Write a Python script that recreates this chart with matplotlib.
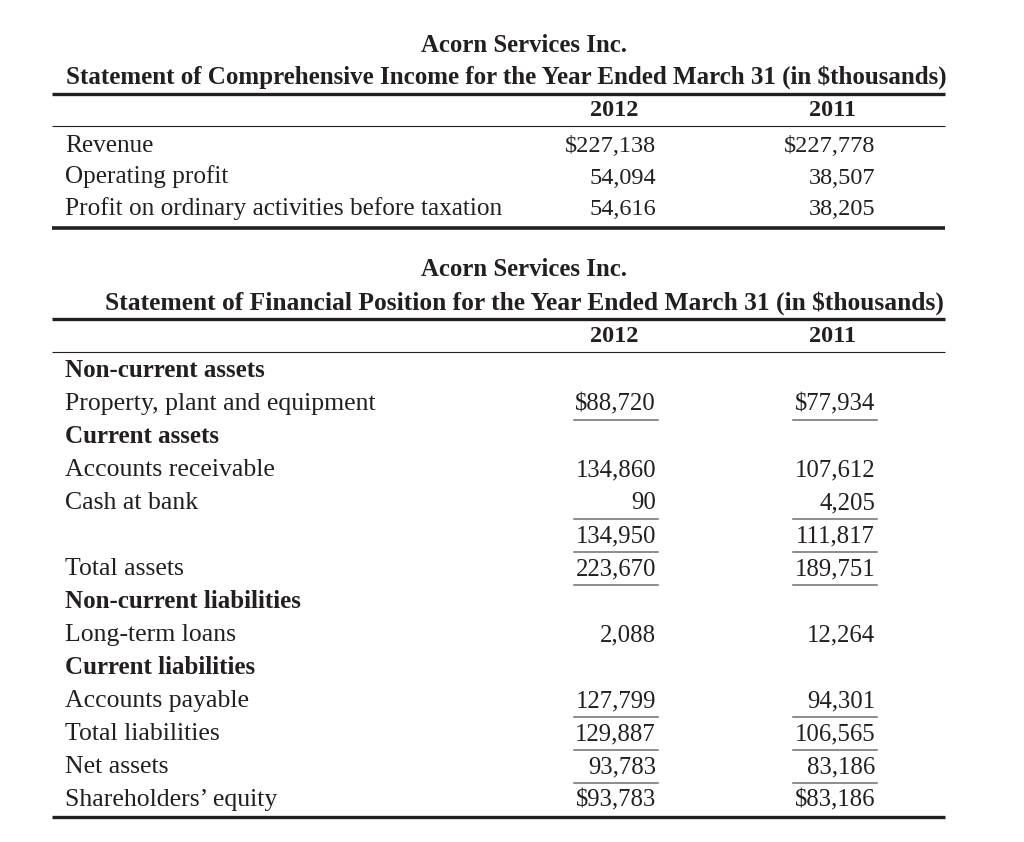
import matplotlib.pyplot as plt

# income statement
is_labels = ["Revenue", "Operating profit", "Profit on ordinary activities before taxation"]
is_2012 = ["$227,138", "54,094", "54,616"]
is_2011 = ["$227,778", "38,507", "38,205"]

# financial position
fp_labels = ["Non-current assets", "Property, plant and equipment", "Current assets",
             "Accounts receivable", "Cash at bank", "", "Total assets",
             "Non-current liabilities", "Long-term loans", "Current liabilities",
             "Accounts payable", "Total liabilities", "Net assets", "Shareholders\u2019 equity"]
fp_bold = [True, False, True, False, False, False, False, True, False, True,
           False, False, False, False]
fp_2012 = ["", "$88,720", "", "134,860", "90", "134,950", "223,670", "", "2,088", "",
           "127,799", "129,887", "93,783", "$93,783"]
fp_2011 = ["", "$77,934", "", "107,612", "4,205", "111,817", "189,751", "", "12,264", "",
           "94,301", "106,565", "83,186", "$83,186"]
fp_under = [False, True, False, False, True, True, True, False, False, False,
            True, True, True, False]

years = ["2012", "2011"]
company = "Acorn Services Inc."
title1 = "Statement of Comprehensive Income for the Year Ended March 31 (in $thousands)"
title2 = "Statement of Financial Position for the Year Ended March 31 (in $thousands)"

plt.rcParams['font.family'] = ['Liberation Serif', 'DejaVu Serif']
ink = '#231f20'

fig = plt.figure(figsize=(10.24, 8.42), dpi=100)
ax = fig.add_axes([0, 0, 1, 1])
ax.set_xlim(0, 1024)
ax.set_ylim(842, 0)
ax.axis('off')

x0, x1 = 52, 945
xl = 65
cols = [656, 875]


def hline(y, lw):
    ax.plot([x0, x1], [y, y], color=ink, lw=lw, solid_capstyle='butt')


def header(y_co, y_title, y_top, y_yr, y_thin, title, tx, tfs):
    ax.text(524, y_co, company, ha='center', va='center', fontsize=17.8,
            fontweight='bold', color=ink)
    ax.text(tx, y_title, title, ha='center', va='center', fontsize=tfs,
            fontweight='bold', color=ink)
    hline(y_top, 2.4)
    for c, yr in zip(cols, years):
        ax.text(c - 42, y_yr, yr, ha='center', va='center', fontsize=17.5,
                fontweight='bold', color=ink)
    hline(y_thin, 0.8)


# table 1
header(46, 77, 94, 111, 126, title1, 506, 18.0)
for i, lab in enumerate(is_labels):
    y = 145 + i * 31.5 + 7
    ax.text(xl, y, lab, ha='left', va='baseline', fontsize=18.2, color=ink)
    ax.text(cols[0], y, is_2012[i], ha='right', va='baseline', fontsize=17.5, color=ink)
    ax.text(cols[1], y, is_2011[i], ha='right', va='baseline', fontsize=17.5, color=ink)
hline(228, 2.6)

# table 2
header(270, 303, 319, 336, 352, title2, 524, 18.4)
for i, lab in enumerate(fp_labels):
    yc = 370 + i * 33
    y = yc + 7
    if fp_bold[i]:
        ax.text(xl, y, lab, ha='left', va='baseline', fontsize=18.0, color=ink,
                fontweight='bold')
    else:
        ax.text(xl, y, lab, ha='left', va='baseline', fontsize=18.5, color=ink)
    for c, vals in zip(cols, [fp_2012, fp_2011]):
        if vals[i]:
            ax.text(c, y, vals[i], ha='right', va='baseline', fontsize=17.8, color=ink)
        if fp_under[i]:
            ax.plot([c - 82, c + 2], [yc + 17, yc + 17], color='#6d6d6d', lw=1.1)
hline(817, 2.4)

fig.savefig('out.png', dpi=100, facecolor='white')
